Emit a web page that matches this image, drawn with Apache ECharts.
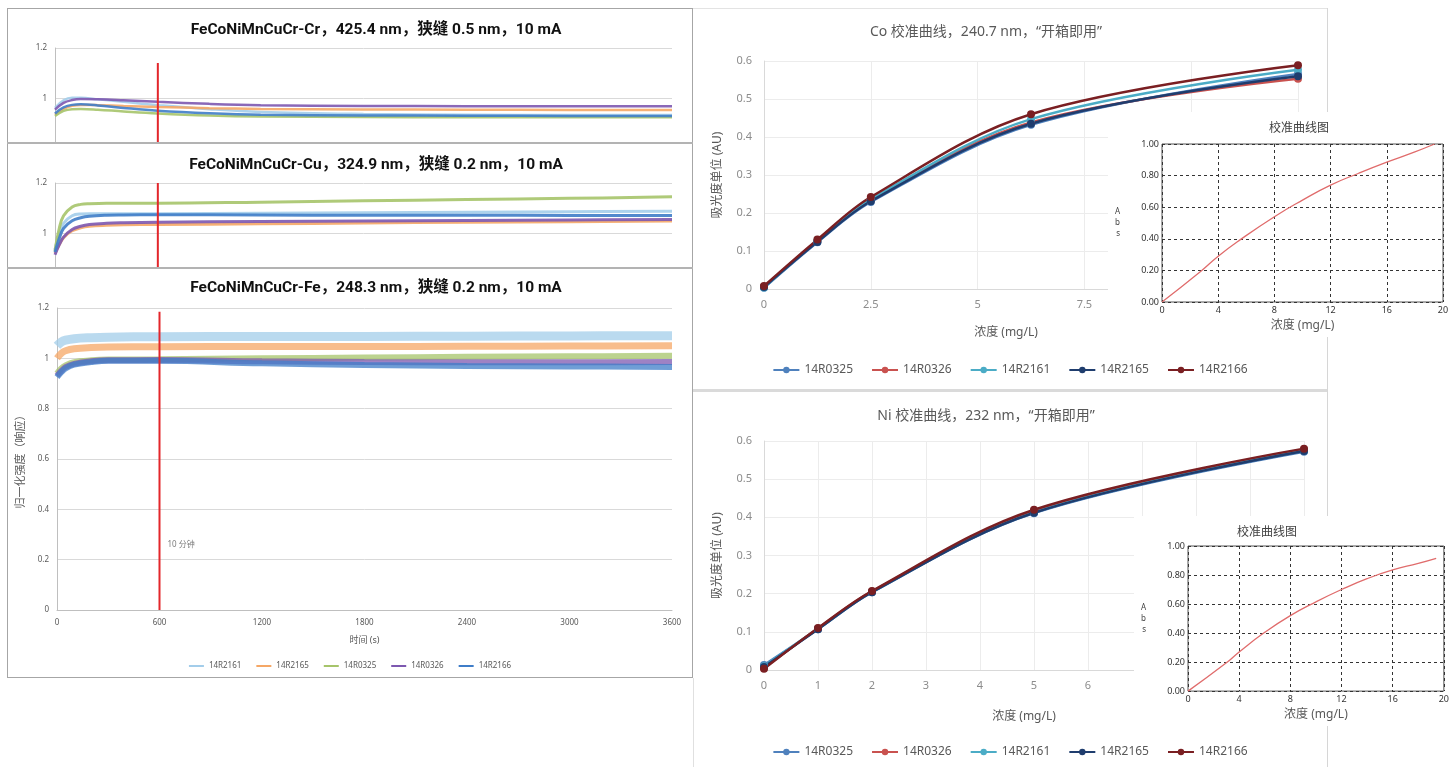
<!DOCTYPE html>
<html><head><meta charset="utf-8">
<script src="https://cdn.jsdelivr.net/npm/echarts@6/dist/echarts.min.js"></script>
<style>
html,body{margin:0;padding:0;background:#fff;width:1452px;height:767px;overflow:hidden;position:relative;}
.wrap{position:absolute;overflow:hidden;background:#fff;}
.ln{position:absolute;pointer-events:none;}
</style></head><body>
<div class="wrap" style="left:7px;top:8px;width:686px;height:135px;"><div id="cr" style="width:686px;height:410px;"></div></div>
<div class="wrap" style="left:7px;top:143px;width:686px;height:125px;"><div id="cu" style="width:686px;height:410px;"></div></div>
<div class="wrap" style="left:7px;top:268px;width:686px;height:410px;"><div id="fe" style="width:686px;height:410px;"></div></div>
<div class="wrap" style="left:693px;top:8px;width:634px;height:382px;"><div id="co" style="width:634px;height:382px;"></div></div>
<div class="wrap" style="left:693px;top:390px;width:634px;height:377px;"><div id="ni" style="width:634px;height:377px;"></div></div>
<div class="wrap" style="left:1108px;top:112px;width:344px;height:225px;"><div id="coin" style="width:344px;height:225px;"></div></div>
<div class="wrap" style="left:1134px;top:516px;width:318px;height:210px;"><div id="niin" style="width:318px;height:210px;"></div></div>
<!-- panel borders -->
<div class="ln" style="left:7px;top:8px;width:686px;height:670px;border:1px solid #a6a6a6;box-sizing:border-box;"></div>
<div class="ln" style="left:7px;top:142px;width:686px;height:2px;background:#b3b3b3;"></div>
<div class="ln" style="left:7px;top:267px;width:686px;height:2px;background:#b3b3b3;"></div>
<div class="ln" style="left:693px;top:8px;width:634px;height:1px;background:#e3e3e3;"></div>
<div class="ln" style="left:1327px;top:8px;width:1px;height:104px;background:#d6d6d6;"></div>
<div class="ln" style="left:1327px;top:337px;width:1px;height:179px;background:#d6d6d6;"></div>
<div class="ln" style="left:1327px;top:726px;width:1px;height:41px;background:#d6d6d6;"></div>
<div class="ln" style="left:693px;top:389px;width:634px;height:3px;background:#dadada;"></div>
<div class="ln" style="left:693px;top:678px;width:1px;height:89px;background:#e0e0e0;"></div>
<script>
// ---------------- DATA ----------------
const leftNames = ['14R2161', '14R2165', '14R0325', '14R0326', '14R2166'];

const crTime = [0, 50, 100, 150, 250, 400, 600, 900, 1200, 1800, 2400, 3000, 3600];
const cr14R2161 = [0.962, 0.992, 1.002, 1.002, 0.996, 0.986, 0.973, 0.957, 0.946, 0.938, 0.935, 0.934, 0.934];
const cr14R2165 = [0.935, 0.958, 0.970, 0.974, 0.973, 0.970, 0.966, 0.961, 0.958, 0.956, 0.955, 0.954, 0.954];
const cr14R0325 = [0.930, 0.950, 0.957, 0.958, 0.955, 0.948, 0.940, 0.932, 0.928, 0.926, 0.925, 0.925, 0.925];
const cr14R0326 = [0.955, 0.982, 0.993, 0.997, 0.996, 0.992, 0.986, 0.978, 0.973, 0.970, 0.969, 0.969, 0.969];
const cr14R2166 = [0.940, 0.964, 0.974, 0.976, 0.972, 0.962, 0.951, 0.941, 0.935, 0.932, 0.931, 0.930, 0.930];

const cuTime = [0, 25, 50, 100, 150, 200, 300, 400, 600, 1200, 1800, 2400, 3000, 3600];
const cu14R2161 = [0.935, 1.000, 1.040, 1.070, 1.077, 1.078, 1.078, 1.078, 1.078, 1.080, 1.082, 1.084, 1.086, 1.088];
const cu14R2165 = [0.920, 0.955, 0.983, 1.010, 1.022, 1.028, 1.032, 1.034, 1.035, 1.038, 1.041, 1.044, 1.046, 1.049];
const cu14R0325 = [0.930, 1.020, 1.070, 1.105, 1.115, 1.118, 1.120, 1.120, 1.120, 1.124, 1.129, 1.134, 1.139, 1.145];
const cu14R0326 = [0.915, 0.955, 0.985, 1.015, 1.028, 1.035, 1.040, 1.042, 1.044, 1.047, 1.049, 1.051, 1.053, 1.055];
const cu14R2166 = [0.925, 0.980, 1.020, 1.050, 1.062, 1.068, 1.072, 1.073, 1.074, 1.073, 1.072, 1.072, 1.071, 1.071];

const feTime = [0, 25, 50, 100, 200, 300, 600, 1200, 1800, 2400, 3000, 3600];
const fe14R2161 = [1.050, 1.065, 1.072, 1.078, 1.082, 1.084, 1.086, 1.087, 1.087, 1.088, 1.089, 1.090];
const fe14R2165 = [1.000, 1.020, 1.030, 1.038, 1.043, 1.045, 1.046, 1.047, 1.047, 1.048, 1.049, 1.050];
const fe14R0325 = [0.940, 0.960, 0.972, 0.985, 0.992, 0.995, 0.996, 1.000, 1.003, 1.006, 1.008, 1.010];
const fe14R0326 = [0.930, 0.950, 0.965, 0.978, 0.988, 0.992, 0.993, 0.988, 0.985, 0.984, 0.984, 0.985];
const fe14R2166 = [0.925, 0.945, 0.960, 0.975, 0.985, 0.990, 0.990, 0.980, 0.974, 0.970, 0.968, 0.966];

const markTime = 600;            // 10 min marker
const crMarkTop = 1.14, cuMarkTop = 1.2, feMarkTop = 1.185;
const markLabel = '10 分钟', markLabelY = 0.258;

const calNames = ['14R0325', '14R0326', '14R2161', '14R2165', '14R2166'];
const coConc = [0, 1.25, 2.5, 6.25, 12.5];
const co14R0325 = [0.003, 0.123, 0.229, 0.432, 0.566];
const co14R0326 = [0.006, 0.126, 0.234, 0.438, 0.553];
const co14R2161 = [0.004, 0.127, 0.236, 0.447, 0.577];
const co14R2165 = [0.005, 0.124, 0.231, 0.435, 0.560];
const co14R2166 = [0.008, 0.130, 0.242, 0.460, 0.589];

const niConc = [0, 1, 2, 5, 10];
const ni14R0325 = [0.013, 0.107, 0.204, 0.411, 0.572];
const ni14R0326 = [0.006, 0.109, 0.206, 0.417, 0.578];
const ni14R2161 = [0.010, 0.108, 0.205, 0.413, 0.575];
const ni14R2165 = [0.008, 0.107, 0.204, 0.412, 0.574];
const ni14R2166 = [0.003, 0.110, 0.207, 0.420, 0.580];

const coInsetX = [0, 2.7, 4, 5.5, 8, 10, 12, 14, 16, 18, 19.4];
const coInsetY = [0, 0.19, 0.29, 0.39, 0.54, 0.645, 0.74, 0.815, 0.885, 0.95, 1.0];
const niInsetX = [0, 3, 4, 6, 8, 10, 12, 14, 16, 18, 19.4];
const niInsetY = [0, 0.195, 0.27, 0.405, 0.52, 0.615, 0.70, 0.775, 0.835, 0.88, 0.915];

// ---------------- STYLE ----------------
const leftColors = {'14R2161':'#a3cdea','14R2165':'#f5a766','14R0325':'#a6c46a','14R0326':'#7d58b0','14R2166':'#3f7dc8'};
const calColors = {'14R0325':'#4f81bd','14R0326':'#c9524f','14R2161':'#4bacc6','14R2165':'#1f3d6e','14R2166':'#7a1f22'};
const fontL = 'Noto Sans, Noto Sans CJK SC, sans-serif';
const fontT = 'Roboto, Noto Sans CJK SC, sans-serif';

function pairs(xs, ys){ return xs.map((x,i)=>[x, ys[i]]); }

function leftOption(title, titleTop, time, sets, markTop, widths, full){
  const series = leftNames.map((n,i)=>({
    type:'line', name:n, data: pairs(time, sets[i]), smooth:0.4, showSymbol:false, symbol:'none',
    lineStyle:{color:leftColors[n], width:widths[i], opacity: full ? 0.75 : 0.9},
    itemStyle:{color:leftColors[n]}, silent:true, z: 2 + (i===3||i===4 ? 1 : 0)
  }));
  series.push({type:'line', name:'mark', data:[[markTime,0],[markTime,markTop]], symbol:'none',
    lineStyle:{color:'#e3262b', width:2}, silent:true, z:5});
  if (full) {
    series.push({type:'scatter', name:'lbl', data:[[markTime, markLabelY]], symbolSize:0,
      label:{show:true, formatter: markLabel, position:'right', distance:8, fontSize:8, color:'#595959', fontFamily:fontL}, silent:true});
  }
  return {
    animation:false,
    title:{text:title, left:364, top:titleTop, textAlign:'center',
      textStyle:{fontFamily:fontT, fontSize:15.5, fontWeight:'bold', color:'#111'}},
    grid:{left:48, right:21, top:40, bottom:68},
    legend: {show: full, data: leftNames, left:'center', top:389, itemWidth:15, itemHeight:2, itemGap:15,
      icon:'rect', textStyle:{fontSize:8, color:'#595959', fontFamily:fontL}, inactiveColor:'#ccc'},
    xAxis:{type:'value', min:0, max:3600, interval:600,
      name: full ? '时间 (s)' : '', nameLocation:'middle', nameGap:26,
      nameTextStyle:{fontSize:9, color:'#595959', fontFamily:fontL},
      axisLine:{show:true, lineStyle:{color:'#bfbfbf'}}, axisTick:{show:false},
      axisLabel:{fontSize:8, color:'#595959', margin:9, fontFamily:fontL, formatter:v=>String(v)}, splitLine:{show:false}},
    yAxis:{type:'value', min:0, max:1.2, interval:0.2,
      name: full ? '归一化强度（响应）' : '', nameLocation:'middle', nameGap:31,
      nameTextStyle:{fontSize:11, color:'#595959', fontFamily:fontL},
      axisLine:{show:true, lineStyle:{color:'#bfbfbf'}}, axisTick:{show:false},
      axisLabel:{fontSize:8, color:'#595959', margin:8, fontFamily:fontL,
        formatter:v=>String(Math.round(v*10)/10)},
      splitLine:{show:true, lineStyle:{color:'#d9d9d9'}}},
    series
  };
}

function calOption(title, xs, sets, xmax, xint, grid, xNamePad, xNameGap){
  return {
    animation:false,
    title:{text:title, left:288, top:12, textAlign:'center',
      textStyle:{fontFamily:fontL, fontSize:14, fontWeight:'normal', color:'#595959'}},
    grid,
    legend:{data:calNames, left:'center', top:351, itemWidth:26, itemHeight:8, itemGap:18,
      textStyle:{fontSize:12, color:'#595959', fontFamily:fontL}},
    xAxis:{type:'value', min:0, max:xmax, interval:xint,
      name:'浓度 (mg/L)', nameLocation:'middle', nameGap:xNameGap,
      nameTextStyle:{fontSize:12, color:'#595959', fontFamily:fontL, padding:[0, xNamePad, 0, 0]},
      axisLine:{show:true, lineStyle:{color:'#d9d9d9'}}, axisTick:{show:false},
      axisLabel:{fontSize:11, color:'#8c8c8c', margin:10, fontFamily:fontL},
      splitLine:{show:true, lineStyle:{color:'#ececec'}}},
    yAxis:{type:'value', min:0, max:0.6, interval:0.1,
      name:'吸光度单位 (AU)', nameLocation:'middle', nameGap:40,
      nameTextStyle:{fontSize:12, color:'#595959', fontFamily:fontL},
      axisLine:{show:true, lineStyle:{color:'#d9d9d9'}}, axisTick:{show:false},
      axisLabel:{fontSize:11, color:'#8c8c8c', margin:12, fontFamily:fontL,
        formatter:v=>String(Math.round(v*10)/10)},
      splitLine:{show:true, lineStyle:{color:'#ececec'}}},
    series: calNames.map((n,i)=>({
      type:'line', name:n, data:pairs(xs, sets[i]), smooth:0.35, symbol:'circle', symbolSize:8,
      lineStyle:{color:calColors[n], width:2.5}, itemStyle:{color:calColors[n]}, silent:true
    }))
  };
}

function insetOption(xs, ys, grid, titleLeft, nameGapY){
  return {
    animation:false,
    title:{text:'校准曲线图', left:titleLeft, top:6, textAlign:'center',
      textStyle:{fontFamily:fontL, fontSize:12, fontWeight:'normal', color:'#404040'}},
    grid: Object.assign({show:true, borderColor:'#555', borderWidth:1, backgroundColor:'#fff'}, grid),
    xAxis:{type:'value', min:0, max:20, interval:4,
      name:'浓度 (mg/L)', nameLocation:'middle', nameGap:17,
      nameTextStyle:{fontSize:12, color:'#595959', fontFamily:fontL},
      axisLine:{show:false}, axisTick:{show:false},
      axisLabel:{fontSize:9, color:'#333', margin:4, fontFamily:fontL},
      splitLine:{show:true, lineStyle:{color:'#333', type:[3,3], width:1}}},
    yAxis:{type:'value', min:0, max:1, interval:0.2,
      name:'A\nb\ns', nameLocation:'middle', nameGap:nameGapY, nameRotate:0,
      nameTextStyle:{fontSize:8, color:'#444', fontFamily:fontL, lineHeight:11},
      axisLine:{show:false}, axisTick:{show:false},
      axisLabel:{fontSize:9, color:'#333', margin:3, fontFamily:fontL, formatter:v=>v.toFixed(2)},
      splitLine:{show:true, lineStyle:{color:'#333', type:[3,3], width:1}}},
    series:[{type:'line', data:pairs(xs, ys), smooth:0.5, showSymbol:false, symbol:'none',
      lineStyle:{color:'#e06c6c', width:1.3}, silent:true}]
  };
}

const init = id => echarts.init(document.getElementById(id), null, {renderer:'canvas'});

init('cr').setOption(leftOption('FeCoNiMnCuCr-Cr，425.4 nm，狭缝 0.5 nm，10 mA', 9, crTime,
  [cr14R2161, cr14R2165, cr14R0325, cr14R0326, cr14R2166], crMarkTop, [2.5,2.5,2.5,2.5,2.5], false));
init('cu').setOption(leftOption('FeCoNiMnCuCr-Cu，324.9 nm，狭缝 0.2 nm，10 mA', 9, cuTime,
  [cu14R2161, cu14R2165, cu14R0325, cu14R0326, cu14R2166], cuMarkTop, [3,3,3,3,3], false));
init('fe').setOption(leftOption('FeCoNiMnCuCr-Fe，248.3 nm，狭缝 0.2 nm，10 mA', 7, feTime,
  [fe14R2161, fe14R2165, fe14R0325, fe14R0326, fe14R2166], feMarkTop, [9,7,6,6,6], true));

init('co').setOption(calOption('Co 校准曲线，240.7 nm，“开箱即用”', coConc,
  [co14R0325, co14R0326, co14R2161, co14R2165, co14R2166], 12.5, 2.5,
  {left:71, right:29, top:53, bottom:101}, 50, 38));
const niOpt = calOption('Ni 校准曲线，232 nm，“开箱即用”', niConc,
  [ni14R0325, ni14R0326, ni14R2161, ni14R2165, ni14R2166], 10, 1,
  {left:71, right:23, top:51, bottom:97}, 20, 41);
niOpt.title.top = 14;
init('ni').setOption(niOpt);

init('coin').setOption(insetOption(coInsetX, coInsetY, {left:54, right:9, top:32, bottom:35}, 186, 42));
init('niin').setOption(insetOption(niInsetX, niInsetY, {left:54, right:4, top:30, bottom:34}, 128, 42));
</script>
</body></html>
